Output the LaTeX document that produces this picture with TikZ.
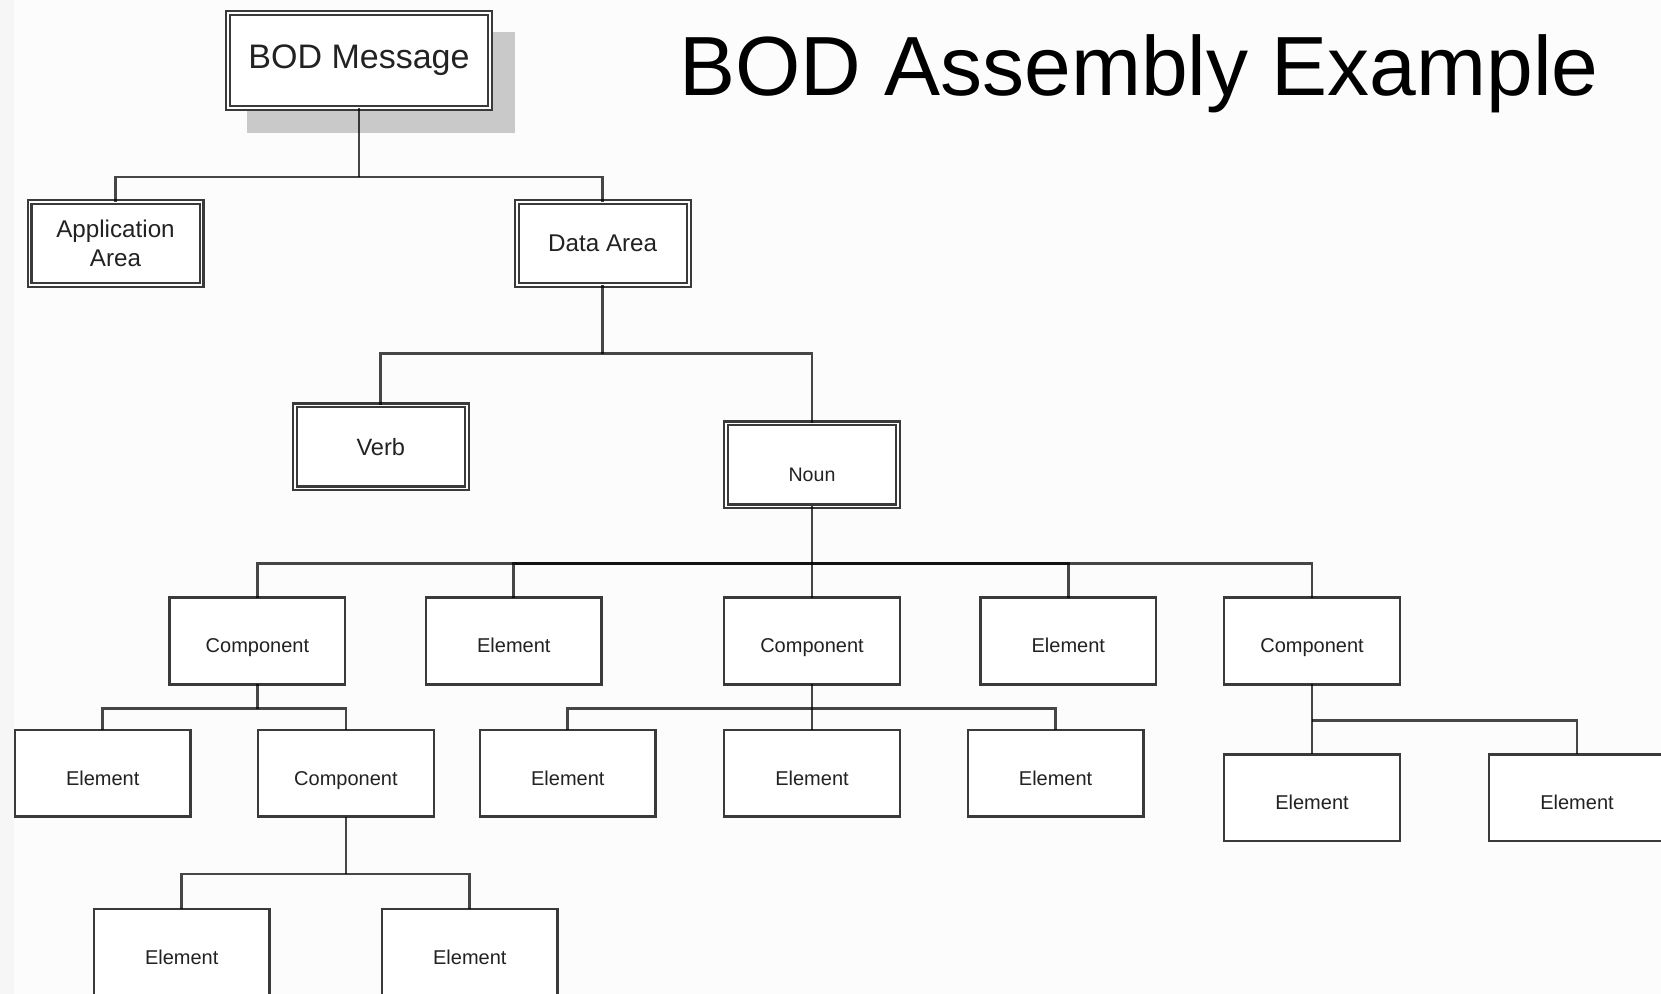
\documentclass[tikz,border=0pt]{standalone}
\usepackage{fontspec}
\setmainfont{Liberation Sans}
\usetikzlibrary{backgrounds}
\definecolor{pagebg}{HTML}{FCFCFC}
\definecolor{edgestrip}{HTML}{F6F6F6}
\definecolor{shadowgray}{HTML}{C9C9C9}
\definecolor{framegray}{HTML}{3A3A3A}
\definecolor{inkgray}{HTML}{222222}

\begin{document}
\begin{tikzpicture}[x=0.5pt,y=-0.5pt,
  every node/.style={inner sep=0pt, outer sep=0pt, text=inkgray},
  framed/.style={draw=framegray, line width=1.1pt, double=white, double distance=0.8pt,
    fill=white, minimum width=86pt, minimum height=41.5pt,
    font=\fontsize{12.1}{14.3}\selectfont},
  plain/.style={draw=framegray, line width=1.2pt, fill=white,
    minimum width=87.8pt, minimum height=43.3pt,
    font=\fontsize{10}{12}\selectfont, text height=12pt, text depth=0pt},
  link/.style={draw=black, draw opacity=0.72, line width=1.4pt},
]
\useasboundingbox (0,0) rectangle (1661,994);
\clip (0,0) rectangle (1661,994);

% page
\begin{scope}[on background layer]
  \fill[pagebg] (0,0) rectangle (1661,994);
  \fill[edgestrip] (0,0) rectangle (14,994);
\end{scope}

% title
\node[anchor=base west, font=\fontsize{42}{50}\selectfont, text=black] (title) at (679,96) {BOD Assembly Example};

% top levels
\node[framed, minimum width=131pt, minimum height=47.5pt, font=\fontsize{17}{20}\selectfont] (bod) at (359,60.5) {BOD Message};
\node[framed, align=center] (app) at (115.5,243.6) {Application\\Area};
\node[framed] (data) at (602.7,243.6) {Data Area};
\node[framed, font=\fontsize{11.8}{14}\selectfont] (verb) at (380.8,447) {Verb};
\node[framed, font=\fontsize{9.8}{12}\selectfont, text height=17pt, text depth=0pt] (noun) at (812,465) {Noun};

% children of the noun
\node[plain] (c1) at (257.4,641) {Component};
\node[plain] (e1) at (513.8,641) {Element};
\node[plain] (c2) at (812,641) {Component};
\node[plain] (e2) at (1068.3,641) {Element};
\node[plain] (c3) at (1312,641) {Component};

% next level
\node[plain] (e3) at (102.7,773.3) {Element};
\node[plain] (c4) at (345.9,773.3) {Component};
\node[plain] (e4) at (567.8,773.3) {Element};
\node[plain] (e5) at (812,773.3) {Element};
\node[plain] (e6) at (1055.6,773.3) {Element};
\node[plain] (e7) at (1312,797.6) {Element};
\node[plain] (e8) at (1577,797.6) {Element};

% lowest level
\node[plain] (e9) at (181.7,952.3) {Element};
\node[plain] (e10) at (469.8,952.3) {Element};

% drop shadow of the root
\begin{scope}[on background layer]
  \fill[shadowgray] ([shift={(19,19)}]bod.north west) rectangle ([shift={(25,25)}]bod.south east);
\end{scope}

% junction points of the tree
\coordinate (j0) at (359,177);
\coordinate (j1) at (602.7,353.8);
\coordinate (j2) at (812,563.5);
\coordinate (j3) at (257.4,708.7);
\coordinate (j4) at (812,708.7);
\coordinate (j5) at (1312,720.3);
\coordinate (j6) at (345.9,874);

% connectors
\draw[link] (bod.south) -- (j0);
\draw[link] (j0) -| (app.north);
\draw[link] (j0) -| (data.north);

\draw[link] (data.south) -- (j1);
\draw[link] (j1) -| (verb.north);
\draw[link] (j1) -| (noun.north);

\draw[link] (noun.south) -- (j2);
\draw[link] (j2) -| (c1.north);
\draw[link] (j2) -| (e1.north);
\draw[link] (j2) -- (c2.north);
\draw[link] (j2) -| (e2.north);
\draw[link] (j2) -| (c3.north);

\draw[link] (c1.south) -- (j3);
\draw[link] (j3) -| (e3.north);
\draw[link] (j3) -| (c4.north);

\draw[link] (c2.south) -- (j4);
\draw[link] (j4) -| (e4.north);
\draw[link] (j4) -- (e5.north);
\draw[link] (j4) -| (e6.north);

\draw[link] (c3.south) -- (j5);
\draw[link] (j5) -- (e7.north);
\draw[link] (j5) -| (e8.north);

\draw[link] (c4.south) -- (j6);
\draw[link] (j6) -| (e9.north);
\draw[link] (j6) -| (e10.north);
\end{tikzpicture}
\end{document}
